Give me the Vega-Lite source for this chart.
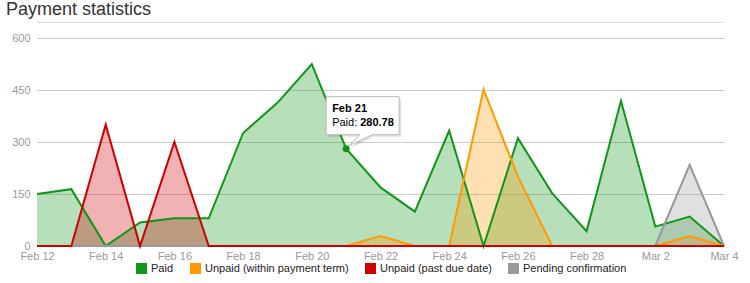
{
  "$schema": "https://vega.github.io/schema/vega-lite/v6.json",
  "width": 687,
  "height": 208,
  "autosize": {"type": "none"},
  "padding": {"left": 37, "top": 38, "right": 26, "bottom": 37},
  "background": "white",
  "config": {"view": {"stroke": null}, "font": "Liberation Sans"},
  "title": {"text": "Payment statistics", "anchor": "start", "frame": "group", "dx": -31, "fontSize": 18, "fontWeight": "normal", "color": "#333", "font": "Liberation Sans", "offset": 3},
  "data": {"values": [
    {"date": "2013/02/12", "Paid": 150, "Unpaid (within payment term)": 0, "Unpaid (past due date)": 0, "Pending confirmation": 0},
    {"date": "2013/02/13", "Paid": 164, "Unpaid (within payment term)": 0, "Unpaid (past due date)": 0, "Pending confirmation": 0},
    {"date": "2013/02/14", "Paid": 0, "Unpaid (within payment term)": 0, "Unpaid (past due date)": 350, "Pending confirmation": 0},
    {"date": "2013/02/15", "Paid": 68, "Unpaid (within payment term)": 0, "Unpaid (past due date)": 0, "Pending confirmation": 0},
    {"date": "2013/02/16", "Paid": 80, "Unpaid (within payment term)": 0, "Unpaid (past due date)": 300, "Pending confirmation": 0},
    {"date": "2013/02/17", "Paid": 80, "Unpaid (within payment term)": 0, "Unpaid (past due date)": 0, "Pending confirmation": 0},
    {"date": "2013/02/18", "Paid": 326, "Unpaid (within payment term)": 0, "Unpaid (past due date)": 0, "Pending confirmation": 0},
    {"date": "2013/02/19", "Paid": 413, "Unpaid (within payment term)": 0, "Unpaid (past due date)": 0, "Pending confirmation": 0},
    {"date": "2013/02/20", "Paid": 525, "Unpaid (within payment term)": 0, "Unpaid (past due date)": 0, "Pending confirmation": 0},
    {"date": "2013/02/21", "Paid": 280.78, "Unpaid (within payment term)": 0, "Unpaid (past due date)": 0, "Pending confirmation": 0},
    {"date": "2013/02/22", "Paid": 169, "Unpaid (within payment term)": 29, "Unpaid (past due date)": 0, "Pending confirmation": 0},
    {"date": "2013/02/23", "Paid": 99, "Unpaid (within payment term)": 0, "Unpaid (past due date)": 0, "Pending confirmation": 0},
    {"date": "2013/02/24", "Paid": 333, "Unpaid (within payment term)": 0, "Unpaid (past due date)": 0, "Pending confirmation": 0},
    {"date": "2013/02/25", "Paid": 0, "Unpaid (within payment term)": 452, "Unpaid (past due date)": 0, "Pending confirmation": 0},
    {"date": "2013/02/26", "Paid": 311, "Unpaid (within payment term)": 200, "Unpaid (past due date)": 0, "Pending confirmation": 0},
    {"date": "2013/02/27", "Paid": 152, "Unpaid (within payment term)": 0, "Unpaid (past due date)": 0, "Pending confirmation": 0},
    {"date": "2013/02/28", "Paid": 43, "Unpaid (within payment term)": 0, "Unpaid (past due date)": 0, "Pending confirmation": 0},
    {"date": "2013/03/01", "Paid": 419, "Unpaid (within payment term)": 0, "Unpaid (past due date)": 0, "Pending confirmation": 0},
    {"date": "2013/03/02", "Paid": 56, "Unpaid (within payment term)": 0, "Unpaid (past due date)": 0, "Pending confirmation": 0},
    {"date": "2013/03/03", "Paid": 85, "Unpaid (within payment term)": 29, "Unpaid (past due date)": 0, "Pending confirmation": 234},
    {"date": "2013/03/04", "Paid": 0, "Unpaid (within payment term)": 0, "Unpaid (past due date)": 0, "Pending confirmation": 0}
  ]},
  "transform": [
    {"fold": ["Paid", "Unpaid (within payment term)", "Pending confirmation", "Unpaid (past due date)"], "as": ["series", "amount"]}
  ],
  "layer": [
    {
      "mark": {"type": "area", "fillOpacity": 0.3, "line": {"strokeWidth": 2}},
      "encoding": {
        "x": {"field": "date", "type": "temporal", "scale": {"nice": false},
          "axis": {"title": null, "values": [
            {"year": 2013, "month": 2, "date": 12}, {"year": 2013, "month": 2, "date": 14}, {"year": 2013, "month": 2, "date": 16},
            {"year": 2013, "month": 2, "date": 18}, {"year": 2013, "month": 2, "date": 20}, {"year": 2013, "month": 2, "date": 22},
            {"year": 2013, "month": 2, "date": 24}, {"year": 2013, "month": 2, "date": 26}, {"year": 2013, "month": 2, "date": 28},
            {"year": 2013, "month": 3, "date": 2}, {"year": 2013, "month": 3, "date": 4}],
            "format": "%b %-d", "labelFlush": false, "labelOverlap": false, "ticks": false, "domain": false, "grid": false,
            "labelColor": "#999", "labelFontSize": 11, "labelFont": "Liberation Sans", "labelPadding": 4}},
        "y": {"field": "amount", "type": "quantitative", "stack": null, "scale": {"domain": [0, 600]},
          "axis": {"title": null, "values": [0, 150, 300, 450, 600], "ticks": false, "domain": false, "labelPadding": 7,
            "labelColor": "#999", "labelFontSize": 11, "labelFont": "Liberation Sans", "gridColor": "#ccc"}},
        "color": {"field": "series", "type": "nominal",
          "scale": {"domain": ["Paid", "Unpaid (within payment term)", "Unpaid (past due date)", "Pending confirmation"],
            "range": ["#109618", "#ff9900", "#cc0000", "#999999"]},
          "legend": {"orient": "none", "legendX": 99, "legendY": 225, "direction": "horizontal", "title": null,
            "symbolType": "square", "symbolSize": 121, "symbolOpacity": 1, "symbolStrokeWidth": 0,
            "labelFontSize": 11, "labelColor": "#222", "labelFont": "Liberation Sans", "columnPadding": 16, "labelOffset": 4, "padding": 0}}
      }
    },
    {
      "transform": [{"filter": "datum.series === 'Paid' && datum.amount === 280.78"}],
      "mark": {"type": "point", "shape": "M-20,-52H53V-14H26L3,-3L14,-14H-20Z", "size": 4, "filled": true, "fill": "black", "fillOpacity": 0.12, "strokeWidth": 0, "xOffset": 2, "yOffset": 2},
      "encoding": {
        "x": {"field": "date", "type": "temporal", "axis": null},
        "y": {"field": "amount", "type": "quantitative"}
      }
    },
    {
      "transform": [{"filter": "datum.series === 'Paid' && datum.amount === 280.78"}],
      "mark": {"type": "point", "shape": "M-20,-52H53V-14H26L3,-3L14,-14H-20Z", "size": 4, "filled": true, "fill": "white", "stroke": "#bbb", "strokeWidth": 1, "opacity": 1},
      "encoding": {
        "x": {"field": "date", "type": "temporal", "axis": {"orient": "top", "offset": 16, "labels": false, "ticks": false, "grid": false, "domain": true, "domainColor": "#ddd", "title": null}},
        "y": {"field": "amount", "type": "quantitative"}
      }
    },
    {
      "transform": [{"filter": "datum.series === 'Paid' && datum.amount === 280.78"}],
      "mark": {"type": "point", "shape": "circle", "size": 50, "filled": true, "color": "#109618", "opacity": 1},
      "encoding": {
        "x": {"field": "date", "type": "temporal", "axis": null},
        "y": {"field": "amount", "type": "quantitative"}
      }
    },
    {
      "transform": [{"filter": "datum.series === 'Paid' && datum.amount === 280.78"}],
      "mark": {"type": "text", "align": "left", "baseline": "alphabetic", "dx": -14, "dy": -37, "fontSize": 11, "fontWeight": "bold", "color": "black", "font": "Liberation Sans"},
      "encoding": {
        "x": {"field": "date", "type": "temporal", "axis": null},
        "y": {"field": "amount", "type": "quantitative"},
        "text": {"field": "date", "type": "temporal", "format": "%b %-d"}
      }
    },
    {
      "transform": [{"filter": "datum.series === 'Paid' && datum.amount === 280.78"}],
      "mark": {"type": "text", "text": "Paid:", "align": "left", "baseline": "alphabetic", "dx": -14, "dy": -23, "fontSize": 11, "color": "black", "font": "Liberation Sans"},
      "encoding": {
        "x": {"field": "date", "type": "temporal", "axis": null},
        "y": {"field": "amount", "type": "quantitative"}
      }
    },
    {
      "transform": [{"filter": "datum.series === 'Paid' && datum.amount === 280.78"}],
      "mark": {"type": "text", "align": "left", "baseline": "alphabetic", "dx": 14, "dy": -23, "fontSize": 11, "fontWeight": "bold", "color": "black", "font": "Liberation Sans"},
      "encoding": {
        "x": {"field": "date", "type": "temporal", "axis": null},
        "y": {"field": "amount", "type": "quantitative"},
        "text": {"field": "amount", "type": "quantitative", "format": ".2f"}
      }
    }
  ],
  "resolve": {"axis": {"x": "independent"}}
}
